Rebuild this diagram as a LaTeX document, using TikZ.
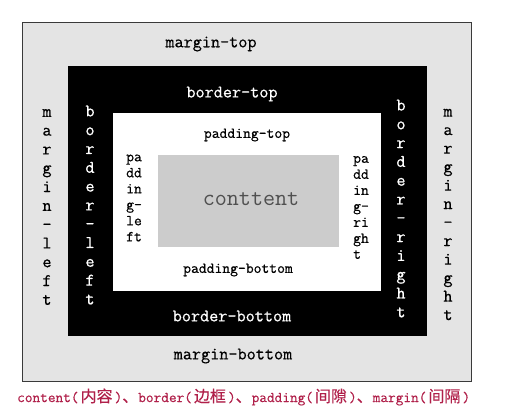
\documentclass[tikz,border=0pt]{standalone}
\usepackage{fontspec}
\setmonofont{Latin Modern Mono}
\newfontfamily\heavymono[FakeBold=0.6]{Latin Modern Mono}
\newfontfamily\cjk[FakeBold=0.3]{Noto Sans CJK SC}
\definecolor{marginfill}{HTML}{E4E4E4}
\definecolor{marginline}{HTML}{3A3A3A}
\definecolor{contentfill}{HTML}{CCCCCC}
\definecolor{contenttext}{HTML}{505050}
\definecolor{captionred}{HTML}{B0204A}
\tikzset{
  boxarea/.style={inner sep=0pt, outer sep=0pt, anchor=north west},
  biglabel/.style={font=\heavymono\fontsize{17.7}{18.8}\selectfont, inner sep=0pt},
  smalllabel/.style={font=\heavymono\fontsize{15.2}{16}\selectfont, inner sep=0pt},
  vertlabel/.style={biglabel, align=center},
  padcol/.style={smalllabel, align=left, anchor=west},
}
\newcommand{\zh}[1]{{\cjk\fontsize{16}{16}\selectfont #1}}
\begin{document}
\begin{tikzpicture}[x=1pt,y=-1pt]
\useasboundingbox (0,0) rectangle (506,414);
% boxes
\node[boxarea, fill=marginfill, draw=marginline, line width=0.9pt, minimum width=449pt, minimum height=359pt] (margin) at (22,22) {};
\node[boxarea, fill=black, minimum width=359pt, minimum height=270pt] (border) at (68,66) {};
\node[boxarea, fill=white, minimum width=268pt, minimum height=178pt] (padding) at (113,113) {};
\node[boxarea, fill=contentfill, minimum width=181pt, minimum height=92pt] (content) at (158,155) {};
% horizontal labels
\node[biglabel] (mtop) at (211,44) {margin-top};
\node[biglabel, text=white] (btop) at (232,94) {border-top};
\node[smalllabel] (ptop) at (247,135) {padding-top};
\node[smalllabel] (pbottom) at (238,270) {padding-bottom};
\node[biglabel, text=white] (bbottom) at (232,316) {border-bottom};
\node[biglabel] (mbottom) at (233,356) {margin-bottom};
\node[font=\ttfamily\fontsize{23.4}{24}\selectfont, text=contenttext, inner sep=0pt] (ctext) at (251,199) {conttent};
% vertical labels
\node[vertlabel] (mleft) at (47,207) {m\\a\\r\\g\\i\\n\\-\\l\\e\\f\\t};
\node[vertlabel, text=white] (bleft) at (90,205) {b\\o\\r\\d\\e\\r\\-\\l\\e\\f\\t};
\node[vertlabel, text=white] (bright) at (401,208.5) {b\\o\\r\\d\\e\\r\\-\\r\\i\\g\\h\\t};
\node[vertlabel, font=\heavymono\fontsize{17.7}{18.5}\selectfont] (mright) at (448,214.5) {m\\a\\r\\g\\i\\n\\-\\r\\i\\g\\h\\t};
% padding side labels
\node[padcol] (pleft) at (126,198) {pa\\dd\\in\\g-\\le\\ft};
\node[padcol] (pright) at (353,207.5) {pa\\dd\\in\\g-\\ri\\gh\\t};
% caption
\node[font=\heavymono\fontsize{14.9}{16}\selectfont, text=captionred, inner sep=0pt, anchor=west] (caption) at (17,397)
  {content(\kern2pt\zh{内容}\kern2pt)\zh{、}border(\kern2pt\zh{边框}\kern2pt)\zh{、}padding(\kern2pt\zh{间隙}\kern2pt)\zh{、}margin(\kern2pt\zh{间隔}\kern2pt)};
\end{tikzpicture}
\end{document}
